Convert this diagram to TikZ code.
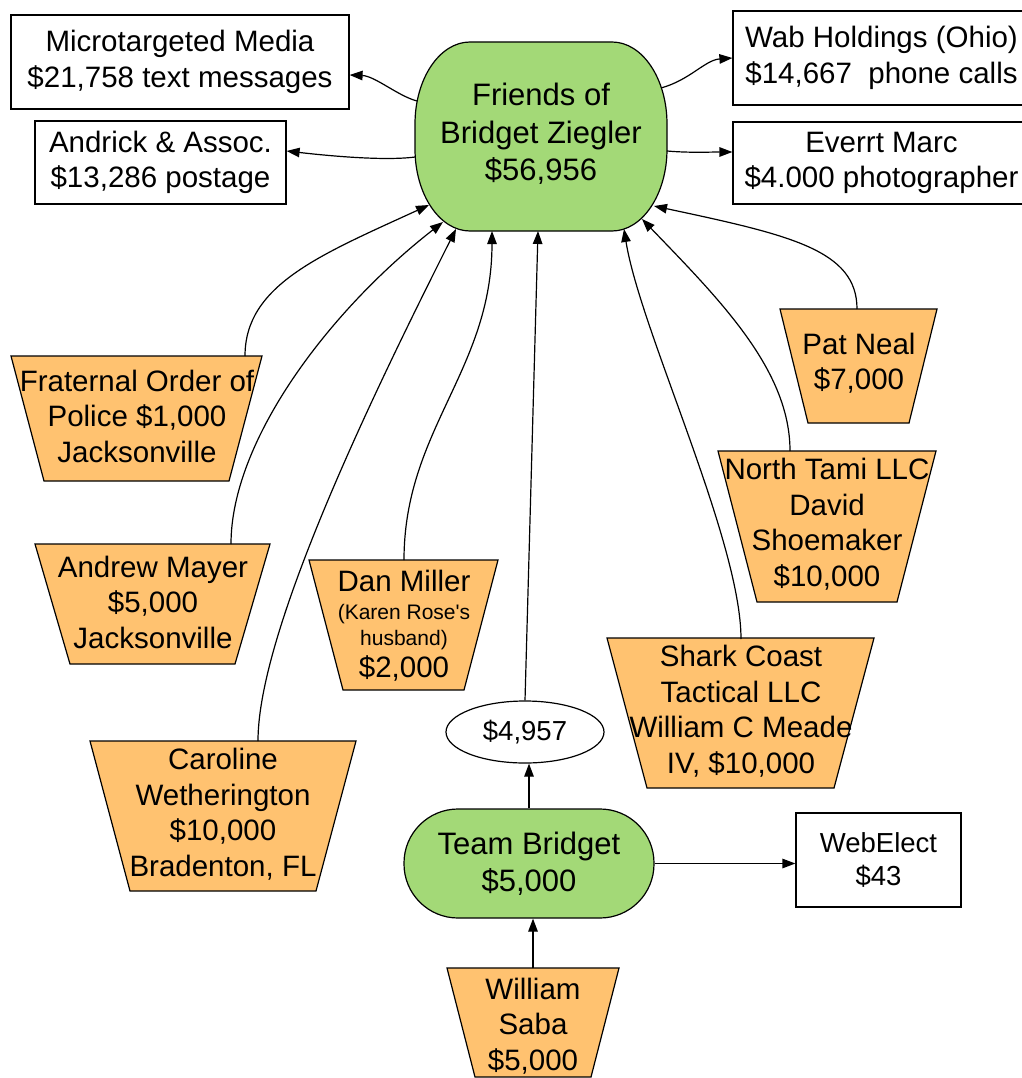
\documentclass[tikz,border=0pt]{standalone}
\usepackage{fontspec}
\setmainfont{Liberation Sans}
\newfontfamily\nomapfont{Liberation Sans}
\usetikzlibrary{arrows.meta,shapes.geometric}
\definecolor{fgreen}{RGB}{163,217,119}
\definecolor{forange}{RGB}{255,194,112}
\newcommand\trapz[5]{\filldraw[trapfill] (#1,#3) -- (#2,#3) -- ({#2-#5},#4) -- ({#1+#5},#4) -- cycle;}
\lineskiplimit=-30pt
\begin{document}
\begin{tikzpicture}[x=1pt,y=-1pt,line width=1.2pt,
  conn/.style={-{Triangle[length=13pt,width=9.5pt]},line width=1.2pt},
  txt/.style={align=center,inner sep=0pt,font=\fontsize{29.5pt}{35.5pt}\selectfont},
  bigtxt/.style={align=center,inner sep=0pt,font=\fontsize{31pt}{37.5pt}\selectfont},
  midtxt/.style={align=center,inner sep=0pt,font=\fontsize{27.5pt}{33pt}\selectfont},
  smalltxt/.style={align=center,inner sep=0pt,font=\fontsize{21pt}{26pt}\selectfont},
  box/.style={draw,fill=white,rectangle,inner sep=0pt},
  trapfill/.style={draw,fill=forange,line join=miter}]
\useasboundingbox (0,0) rectangle (1021,1078);
% central shape
\filldraw[fill=fgreen] (470,42) -- (612,42)
  arc[start angle=90,end angle=0,x radius=55pt,y radius=82pt] -- (667,149)
  arc[start angle=0,end angle=-90,x radius=55pt,y radius=82pt] -- (470,231)
  arc[start angle=270,end angle=180,x radius=55pt,y radius=82pt] -- (415,124)
  arc[start angle=180,end angle=90,x radius=55pt,y radius=82pt] -- cycle;
\node[bigtxt] (F) at (541,134) {Friends of\\Bridget Ziegler\\\$56,956};
% border points of the central shape
\coordinate (FM) at (417,101);
\coordinate (FA) at (415,157);
\coordinate (FW) at (661,88);
\coordinate (FE) at (667,151);
\coordinate (Ff) at (429,205);
\coordinate (Fa) at (443,222);
\coordinate (Fc) at (456,229);
\coordinate (Fd) at (492,231);
\coordinate (Fe) at (538,231);
\coordinate (Fs) at (624,229);
\coordinate (Fn) at (642,219);
\coordinate (Fp) at (654,206);
% boxes
\node[box,txt,minimum width=338pt,minimum height=94pt] (M) at (180,62) {Microtargeted Media\\\$21,758 text messages};
\node[box,txt,minimum width=251pt,minimum height=83pt] (A) at (160.5,162.5) {Andrick \& Assoc.\\\$13,286 postage};
\node[box,txt,minimum width=297pt,minimum height=94pt] (W) at (881.5,58) {Wab Holdings (Ohio)\\\$14,667\ \ phone calls};
\node[box,txt,minimum width=297pt,minimum height=82pt] (Ev) at (881.5,163) {Everrt Marc\\\$4.000 photographer};
\node[box,midtxt,minimum width=165pt,minimum height=94pt] (WE) at (878.5,860) {WebElect\\\$43};
% trapezoids
\trapz{11}{262}{356}{481}{33}
\trapz{35}{270}{544}{664}{35}
\trapz{90}{356}{741}{891}{40}
\trapz{309}{498}{560}{690}{34}
\trapz{780}{937}{309}{423}{28}
\trapz{718}{936}{451}{602}{39}
\trapz{607}{874}{638}{788}{40}
\trapz{447}{619}{968}{1077}{28}
\coordinate (fopT) at (245,356);
\coordinate (amT) at (231,544);
\coordinate (cwT) at (258,741);
\coordinate (dmT) at (404,560);
\coordinate (pnT) at (857,309);
\coordinate (ntT) at (790,451);
\coordinate (scT) at (741,639);
\coordinate (wsT) at (533,968);
\node[txt] (fop) at (137,416) {Fraternal Order of\\Police \$1,000\\Jacksonville};
\node[txt] (am) at (153,602) {Andrew Mayer\\\$5,000\\Jacksonville};
\node[txt] (cw) at (223,814) {Caroline\\Wetherington\\\$10,000\\Bradenton, FL};
\node[smalltxt] (dm) at (404,626)
  {{\fontsize{29.5pt}{26pt}\selectfont Dan Miller}\\[2pt](Karen Rose{\nomapfont'}s\\husband)\\[6pt]{\fontsize{29.5pt}{26pt}\selectfont\$2,000}};
\node[txt] (pn) at (859,363) {Pat Neal\\\$7,000};
\node[txt] (nt) at (827,524) {North Tami LLC\\David\\Shoemaker\\\$10,000};
\node[txt] (sc) at (741,711) {Shark Coast\\Tactical LLC\\William C Meade\\IV, \$10,000};
\node[txt] (ws) at (533,1026) {William\\Saba\\\$5,000};
% green and ellipse nodes
\node[draw,fill=fgreen,rounded corners=54pt,minimum width=250pt,minimum height=109pt,bigtxt] (TB) at (529,863.5) {Team Bridget\\\$5,000};
\node[draw,fill=white,ellipse,minimum width=158pt,minimum height=62pt,inner sep=0pt,midtxt] (E) at (525,732) {\$4,957};
% connectors out of the central node
\draw[conn] (FM) .. controls (398,96) and (375,76) .. ([yshift=-13pt]M.east);
\draw[conn] (FA) .. controls (385,161) and (330,156) .. ([yshift=11.5pt]A.east);
\draw[conn] (FW) .. controls (690,80) and (705,60) .. (W.west);
\draw[conn] (FE) .. controls (690,153) and (710,152) .. ([yshift=11pt]Ev.west);
% connectors into the central node
\draw[conn] (fopT) .. controls (245,285) and (320,255) .. (Ff);
\draw[conn] (amT) .. controls (231,440) and (330,310) .. (Fa);
\draw[conn] (cwT) .. controls (258,630) and (375,390) .. (Fc);
\draw[conn] (dmT) .. controls (404,430) and (492,370) .. (Fd);
\draw[conn] (E.north) -- (Fe);
\draw[conn] (scT) .. controls (741,540) and (640,330) .. (Fs);
\draw[conn] (ntT) .. controls (790,370) and (720,300) .. (Fn);
\draw[conn] (pnT) .. controls (857,250) and (790,235) .. (Fp);
% Team Bridget
\draw[conn] (TB.north) -- (TB.north |- E.south);
\draw[conn] (TB.east) -- (TB.east -| WE.west);
\draw[conn] (wsT) -- (wsT |- TB.south);
\end{tikzpicture}
\end{document}
